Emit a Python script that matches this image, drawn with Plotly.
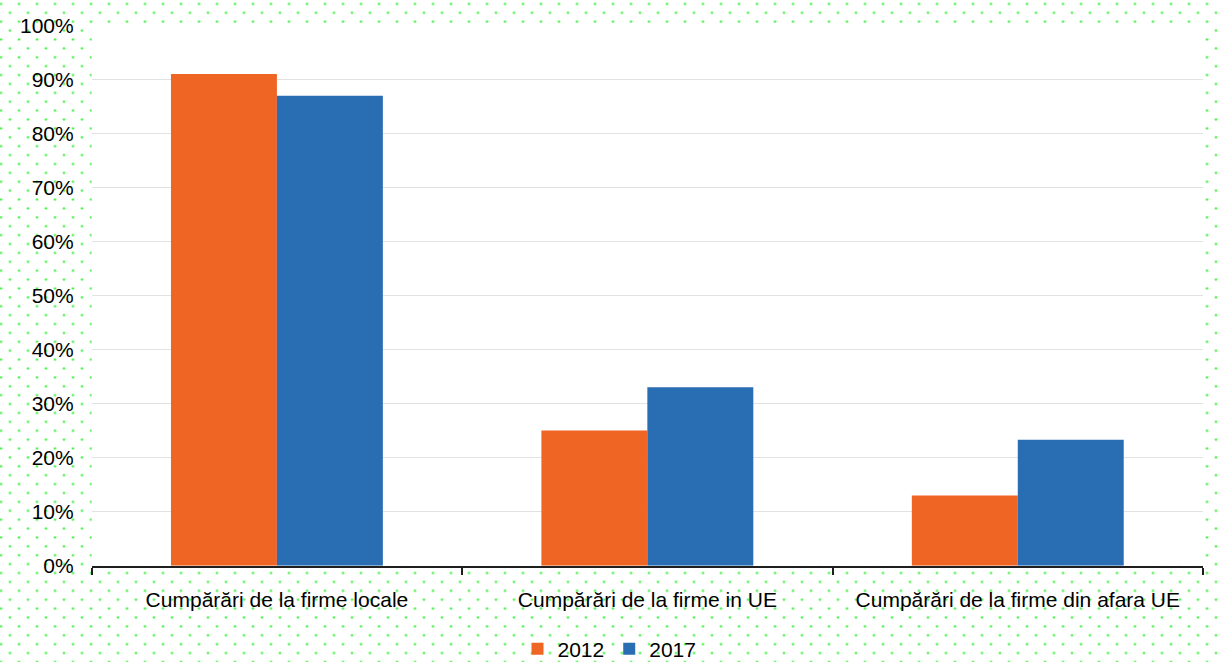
import base64
import plotly.graph_objects as go

# Data
categories = [
    "Cumpărări de la firme locale",
    "Cumpărări de la firme in UE",
    "Cumpărări de la firme din afara UE",
]
series_names = ["2012", "2017"]
values_2012 = [0.91, 0.25, 0.13]
values_2017 = [0.87, 0.33, 0.233]
y_tick_values = [0, 0.1, 0.2, 0.3, 0.4, 0.5, 0.6, 0.7, 0.8, 0.9, 1.0]

# Styling
W, H = 1219, 670
colors = ["#ef6524", "#296db3"]
font_family = "Liberation Sans, Arial, sans-serif"
left, right = 91.7, 1203.0     # plot area edges (px)
top, bottom = 25.7, 572.5

# Dotted green page background as an SVG pattern
dots_svg = (
    f'<svg xmlns="http://www.w3.org/2000/svg" width="{W}" height="{H}" '
    f'viewBox="0 0 {W} {H}">'
    '<defs><pattern id="d" patternUnits="userSpaceOnUse" x="14.5" y="-0.5" '
    'width="18" height="18">'
    '<circle cx="4.5" cy="4.5" r="1.15" fill="#1ef01e"/>'
    '<circle cx="13.5" cy="13.5" r="1.15" fill="#1ef01e"/>'
    '</pattern></defs>'
    '<rect width="100%" height="100%" fill="url(#d)"/></svg>'
)
dots_uri = "data:image/svg+xml;base64," + base64.b64encode(dots_svg.encode()).decode()

fig = go.Figure()
for name, vals, col in zip(series_names, [values_2012, values_2017], colors):
    fig.add_bar(x=categories, y=vals, name=name, marker_color=col,
                marker_line_width=0)

fig.update_layout(
    width=W, height=H,
    margin=dict(l=0, r=0, t=0, b=0),
    paper_bgcolor="white", plot_bgcolor="white",
    barmode="group", bargap=0.428, bargroupgap=0,
    font=dict(family=font_family, size=21, color="#000000"),
    showlegend=True,
    legend=dict(orientation="h", x=0.5, xanchor="center",
                y=(H - 657) / H, yanchor="middle",
                bgcolor="rgba(0,0,0,0)", font=dict(size=21)),
    xaxis=dict(domain=[left / W, right / W], showline=True,
               linecolor="#1f1f1f", linewidth=2, ticks="outside",
               tickson="boundaries", ticklen=7, tickwidth=1.5,
               tickcolor="#1f1f1f", showgrid=False, automargin=False,
               ticklabelstandoff=14),
    yaxis=dict(domain=[(H - bottom) / H, (H - top) / H], range=[0, 1],
               tickvals=y_tick_values, tickformat=".0%", showgrid=True,
               gridcolor="#e2e2e2", gridwidth=1, zeroline=False,
               showline=False, ticks="", automargin=False,
               ticklabelstandoff=17),
    images=[dict(source=dots_uri, xref="paper", yref="paper", x=0, y=1,
                 sizex=1, sizey=1, xanchor="left", yanchor="top",
                 sizing="stretch", layer="below")],
    shapes=[dict(type="rect", xref="x domain", yref="y domain",
                 x0=0, x1=1, y0=0, y1=1.004, fillcolor="white",
                 line=dict(width=0), layer="below")],
)

fig.write_html("out.html")
